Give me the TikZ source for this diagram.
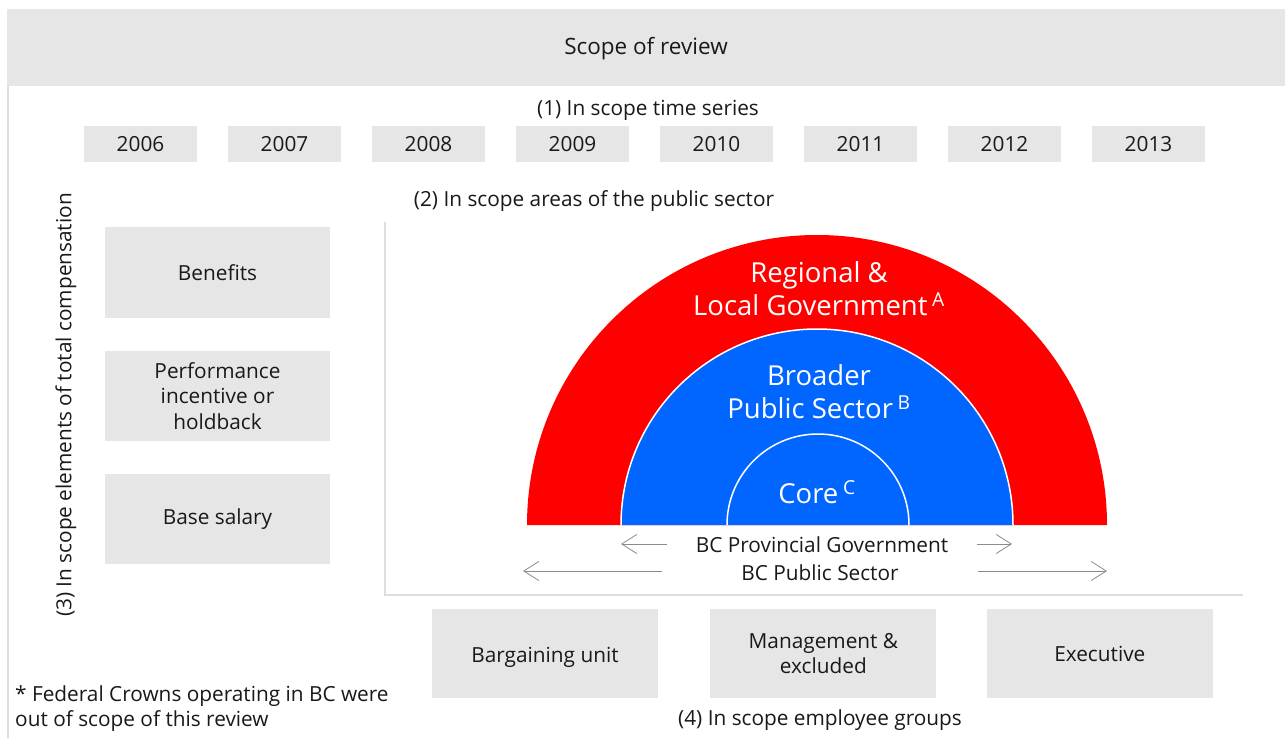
\documentclass[tikz,border=0pt]{standalone}
\usepackage{fontspec}
\setmainfont{Open Sans}
\usepackage{xcolor}
\usetikzlibrary{positioning,arrows.meta}

\definecolor{boxgray}{HTML}{E6E6E6}
\definecolor{linegray}{HTML}{DEDEDE}
\definecolor{arcred}{HTML}{FF0000}
\definecolor{arcblue}{HTML}{0066FF}
\definecolor{arrowgray}{HTML}{8C8C8C}

\begin{document}
\begin{tikzpicture}[x = 1pt, y = -1pt, node distance = 33pt]
            \tikzstyle{txt} = [font=\fontsize{20.8}{25.5}\selectfont, text=black!90, inner sep=0pt]
            \tikzstyle{yearbox} = [txt, fill=boxgray, minimum width=113pt, minimum height=36pt]
            \tikzstyle{elembox} = [txt, fill=boxgray, minimum width=225pt, minimum height=90pt, align=center]
            \tikzstyle{groupbox} = [elembox, minimum width=226pt, minimum height=89pt]
            \tikzstyle{area} = [font=\fontsize{27.5}{33}\selectfont, text=white, align=center, inner sep=0pt]
            \tikzstyle{span} = [draw=arrowgray, line width=0.8pt, -{Straight Barb[length=15pt, width=19pt]}]
            \useasboundingbox (0,0) rectangle (1285,738);
            \fill [white] (0,0) rectangle (1285,738);

            \node [txt, fill=boxgray, minimum width=1278pt, minimum height=77pt, font=\fontsize{22.5}{27}\selectfont] (T) at (646,47.5) {\raisebox{-7.5pt}[0pt][0pt]{Scope of review}};
            \draw [linegray, line width=2pt] (8,86) -- (8,738);

            \node [txt] (TS) at (648,110) {(1) In scope time series};
            \foreach \yr [count=\i] in {2006, ..., 2013}
                \node [yearbox] (Y\i) at ({140.5+144*(\i-1)},144) {\yr};

            \node [txt] (PA) at (594,201) {(2) In scope areas of the public sector};
            \draw [linegray, line width=1.5pt] (385,222) -- (385,595) -- (1243,595);

            \node [txt, rotate=90] (EL) at (66,405) {(3) In scope elements of total compensation};
            \node [elembox] (E1) at (217.5,272.5) {Benefits};
            \node [elembox, below = of E1] (E2) {Performance\\incentive or\\holdback};
            \node [elembox, below = of E2] (E3) {Base salary};

            \fill [arcred] (527,525) arc (180:360:290) -- cycle;
            \filldraw [fill=arcblue, draw=white, line width=1.5pt] (621,525) arc (180:360:196);
            \draw [white, line width=1.5pt] (727,525) arc (180:360:91);
            \node [area] (RL) at (819,289) {Regional \&\\Local Government\,\textsuperscript{A}};
            \node [area] (BP) at (819,392) {Broader\\Public Sector\,\textsuperscript{B}};
            \node [area] (CO) at (817,492) {Core\,\textsuperscript{C}};

            \node [txt] (PG) at (822,545) {BC Provincial Government};
            \node [txt] (PS) at (820,573) {BC Public Sector};
            \coordinate (PGl) at (621,544);
            \coordinate (PGr) at (1012,544);
            \coordinate (PSl) at (523,571);
            \coordinate (PSr) at (1107,571);
            \draw [span] ([xshift=-29pt] PG.west |- PGl) -- (PGl);
            \draw [span] ([xshift=29pt] PG.east |- PGr) -- (PGr);
            \draw [span] ([xshift=-79pt] PS.west |- PSl) -- (PSl);
            \draw [span] ([xshift=79pt] PS.east |- PSr) -- (PSr);

            \node [groupbox] (G1) at (545,653.5) {\raisebox{-9pt}[0pt][0pt]{Bargaining unit}};
            \node [groupbox, right = 52pt of G1] (G2) {Management \&\\excluded};
            \node [groupbox, right = 50pt of G2] (G3) {Executive};
            \node [txt] (EG) at (820,720) {(4) In scope employee groups};

            \node [txt, anchor=west, align=left] (FN) at (15,708.5) {* Federal Crowns operating in BC were\\out of scope of this review};
        \end{tikzpicture}
\end{document}
